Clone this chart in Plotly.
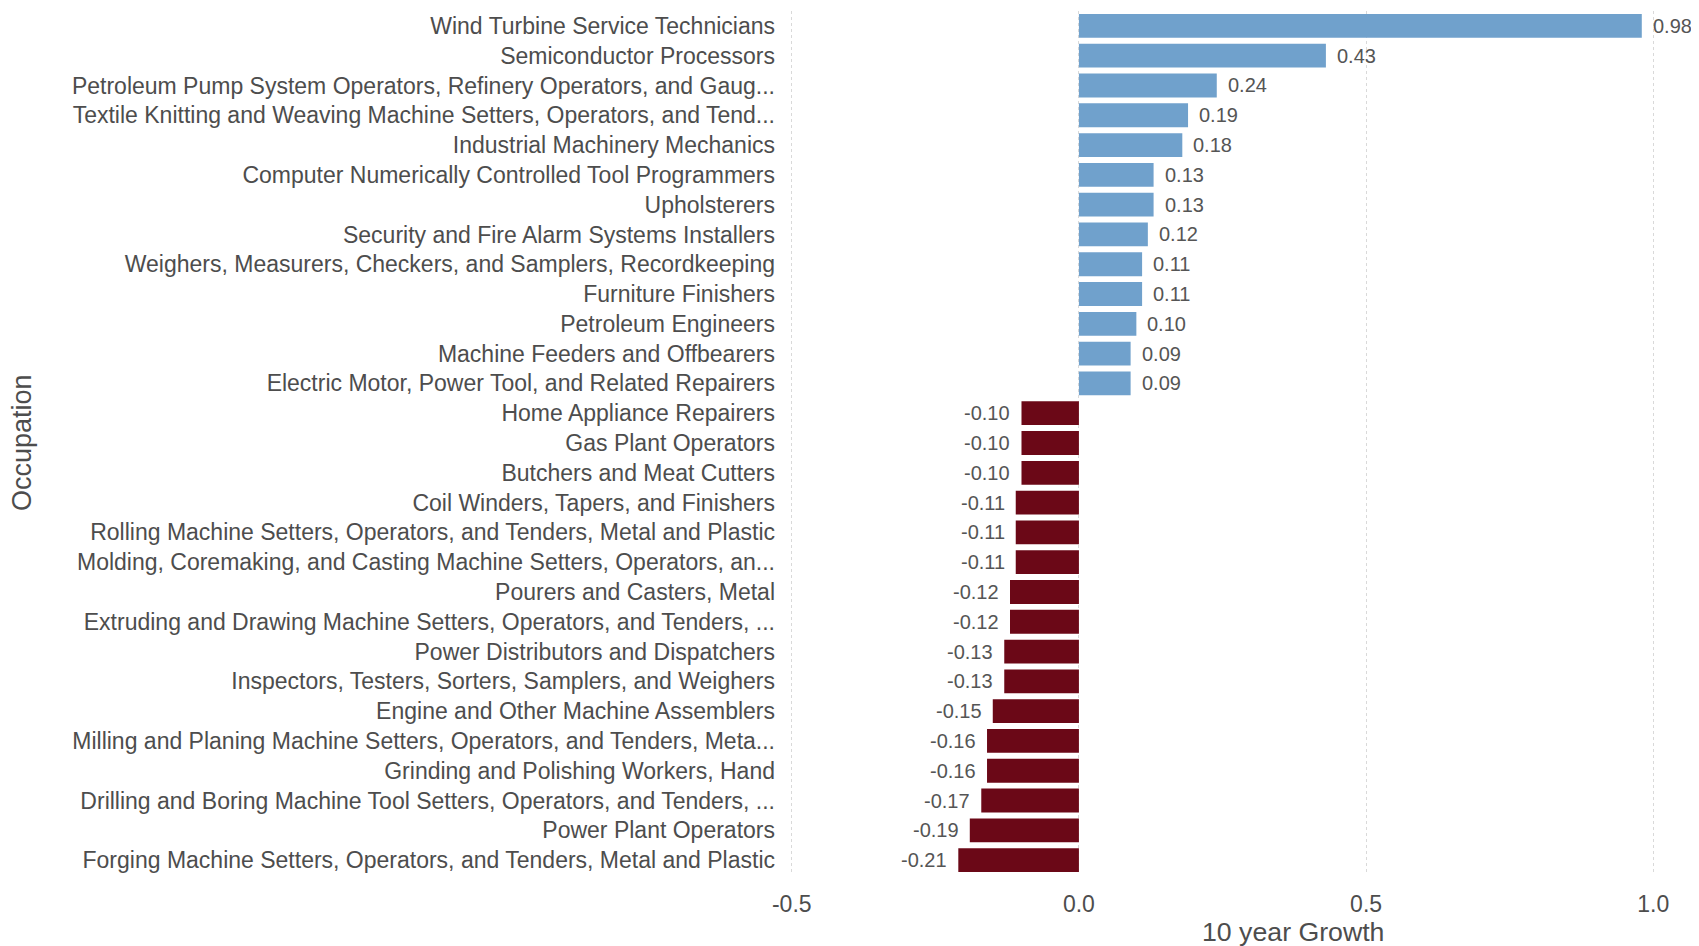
import plotly.graph_objects as go

occupations = [
    "Wind Turbine Service Technicians",
    "Semiconductor Processors",
    "Petroleum Pump System Operators, Refinery Operators, and Gaug...",
    "Textile Knitting and Weaving Machine Setters, Operators, and Tend...",
    "Industrial Machinery Mechanics",
    "Computer Numerically Controlled Tool Programmers",
    "Upholsterers",
    "Security and Fire Alarm Systems Installers",
    "Weighers, Measurers, Checkers, and Samplers, Recordkeeping",
    "Furniture Finishers",
    "Petroleum Engineers",
    "Machine Feeders and Offbearers",
    "Electric Motor, Power Tool, and Related Repairers",
    "Home Appliance Repairers",
    "Gas Plant Operators",
    "Butchers and Meat Cutters",
    "Coil Winders, Tapers, and Finishers",
    "Rolling Machine Setters, Operators, and Tenders, Metal and Plastic",
    "Molding, Coremaking, and Casting Machine Setters, Operators, an...",
    "Pourers and Casters, Metal",
    "Extruding and Drawing Machine Setters, Operators, and Tenders, ...",
    "Power Distributors and Dispatchers",
    "Inspectors, Testers, Sorters, Samplers, and Weighers",
    "Engine and Other Machine Assemblers",
    "Milling and Planing Machine Setters, Operators, and Tenders, Meta...",
    "Grinding and Polishing Workers, Hand",
    "Drilling and Boring Machine Tool Setters, Operators, and Tenders, ...",
    "Power Plant Operators",
    "Forging Machine Setters, Operators, and Tenders, Metal and Plastic",
]

growth = [
    0.98, 0.43, 0.24, 0.19, 0.18, 0.13, 0.13, 0.12, 0.11, 0.11, 0.10, 0.09, 0.09,
    -0.10, -0.10, -0.10, -0.11, -0.11, -0.11, -0.12, -0.12, -0.13, -0.13,
    -0.15, -0.16, -0.16, -0.17, -0.19, -0.21,
]

x_ticks = [-0.5, 0.0, 0.5, 1.0]
x_tick_labels = ["-0.5", "0.0", "0.5", "1.0"]

POS_COLOR = "#70a1cc"
NEG_COLOR = "#6b0817"
TEXT_COLOR = "#4d4d4d"
FONT = "Liberation Sans, Arial, sans-serif"

colors = [POS_COLOR if v >= 0 else NEG_COLOR for v in growth]

fig = go.Figure(
    go.Bar(
        x=growth,
        y=occupations,
        orientation="h",
        marker=dict(color=colors, line=dict(width=0)),
        width=0.8,
        hoverinfo="x+y",
    )
)

# value labels placed from the data
for occ, v in zip(occupations, growth):
    fig.add_annotation(
        x=v, y=occ, xref="x", yref="y",
        text=f"{v:.2f}",
        showarrow=False,
        xanchor="left" if v >= 0 else "right",
        xshift=9 if v >= 0 else -9,
        font=dict(size=20, color="#555555", family=FONT),
    )

n = len(occupations)
L, R, T, B = 778, 25, 3, 79
plot_w = 1699 - L - R

# axis titles as annotations for precise placement
fig.add_annotation(
    x=(14 - L) / plot_w, y=0.5, xref="paper", yref="paper",
    text="Occupation", textangle=-90, showarrow=False,
    xanchor="center", yanchor="middle",
    font=dict(size=27, color=TEXT_COLOR, family=FONT),
)
fig.add_annotation(
    x=(1285 - L) / plot_w, y=0, xref="paper", yref="paper",
    text="10 year Growth", showarrow=False,
    xanchor="center", yanchor="middle", yshift=-57,
    font=dict(size=26.7, color=TEXT_COLOR, family=FONT),
)

fig.update_layout(
    width=1699,
    height=946,
    paper_bgcolor="white",
    plot_bgcolor="white",
    margin=dict(l=L, r=R, t=T, b=B, autoexpand=False),
    font=dict(family=FONT, color=TEXT_COLOR, size=20),
    showlegend=False,
    xaxis=dict(
        range=[-0.51, 1.05],
        tickvals=x_ticks,
        ticktext=x_tick_labels,
        tickfont=dict(size=23, color=TEXT_COLOR),
        showgrid=True,
        gridcolor="#d9d9d9",
        griddash="dot",
        gridwidth=1,
        zeroline=False,
        showline=False,
        ticks="",
        ticklabelstandoff=13,
        automargin=False,
    ),
    yaxis=dict(
        type="category",
        categoryorder="array",
        categoryarray=occupations,
        range=[n - 0.5, -0.5],
        showgrid=False,
        zeroline=False,
        showline=False,
        ticks="",
        ticklabelstandoff=10,
        tickfont=dict(size=23, color=TEXT_COLOR),
        automargin=False,
    ),
)

fig.write_html("out.html")
